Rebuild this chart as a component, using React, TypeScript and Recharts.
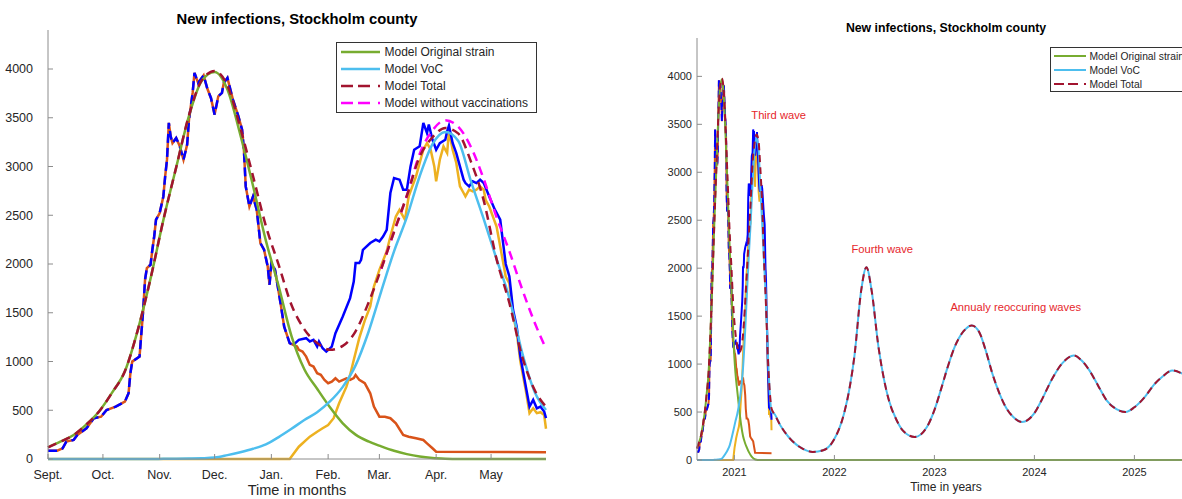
import { LineChart, Line, XAxis, YAxis, ReferenceDot } from 'recharts'

const FONT = '"Liberation Sans", Arial, Helvetica, sans-serif'
const AXIS = '#8c8c8c'
const TEXT = '#262626'

const GREEN = '#77AC30'
const CYAN = '#4DBEEE'
const DARKRED = '#A2142F'
const MAGENTA = '#FF00FF'
const BLUE = '#0000FF'
const ORANGE = '#D95319'
const YELLOW = '#EDB120'
const NOTE = '#e6262b'

// axis ticks
const monthTicks = [0, 30, 61, 91, 122, 153, 181, 212, 242]
const monthLabels = ['Sept.', 'Oct.', 'Nov.', 'Dec.', 'Jan.', 'Feb.', 'Mar.', 'Apr.', 'May']
const yTicks = [0, 500, 1000, 1500, 2000, 2500, 3000, 3500, 4000]
const yearTicks = [2021, 2022, 2023, 2024, 2025]

// model curves, days since 1 Sept 2020
const modelDays = [0, 7, 14, 21, 28, 35, 42, 49, 56, 63, 70, 77, 84, 91, 98, 105, 112, 119, 126, 133, 140, 147, 154, 161, 168, 175, 182, 189, 196, 203, 210, 217, 224, 231, 238, 245, 252, 259, 266, 272]
const modelOriginal = [120, 180, 246, 355, 490, 680, 900, 1320, 1850, 2450, 2990, 3520, 3880, 3970, 3790, 3330, 2800, 2240, 1770, 1260, 920, 720, 530, 366, 250, 180, 130, 85, 50, 25, 10, 3, 0, 0, 0, 0, 0, 0, 0, 0]
const modelVoc = [0, 0, 0, 0, 0, 0, 0, 0, 0, 2, 3, 5, 8, 15, 40, 70, 105, 150, 225, 310, 400, 480, 590, 740, 960, 1300, 1720, 2130, 2480, 2900, 3230, 3355, 3265, 2850, 2460, 2050, 1650, 1090, 680, 503]
const modelTotal = [120, 180, 246, 355, 490, 680, 900, 1320, 1850, 2450, 2990, 3525, 3885, 3980, 3830, 3400, 2900, 2390, 1990, 1580, 1330, 1190, 1120, 1160, 1310, 1600, 1950, 2330, 2700, 3100, 3300, 3395, 3340, 3050, 2650, 2050, 1600, 1050, 700, 537]
const modelNoVacc = [null, null, null, null, null, null, null, null, null, null, null, null, null, null, null, null, null, null, null, null, null, null, null, null, null, null, 1950, 2330, 2700, 3130, 3370, 3475, 3410, 3200, 2870, 2480, 2130, 1740, 1390, 1130]

// observed, both strains together (first wave: all original strain)
const obsEarlyDays = [0, 5, 8, 10, 14, 16, 21, 25, 29, 32, 37, 42, 44, 45, 46, 50, 51, 52, 53, 54, 56, 57, 58, 59, 61, 63, 64, 65, 66, 67, 68, 70, 72, 74, 76, 77, 79, 80, 82, 85, 87, 89, 91, 93, 95, 96, 98, 101, 104, 106, 107, 108, 110, 112, 114, 116, 118, 120, 121, 122, 124, 127, 129, 132, 134]
const obsEarly = [85, 85, 110, 178, 195, 246, 315, 418, 434, 503, 537, 588, 674, 880, 999, 1050, 1290, 1530, 1838, 1958, 1992, 2146, 2282, 2454, 2523, 2693, 2900, 3070, 3447, 3309, 3240, 3292, 3207, 3070, 3224, 3480, 3755, 3960, 3857, 3935, 3800, 3703, 3532, 3720, 3755, 3857, 3909, 3686, 3515, 3378, 3172, 2796, 2590, 2693, 2556, 2215, 2146, 1975, 1787, 2009, 1940, 1599, 1358, 1188, 1170]

const obsTotalDays = [134, 137, 141, 143, 145, 147, 148, 150, 152, 155, 157, 161, 165, 167, 168, 170, 171, 172, 176, 179, 181, 183, 185, 187, 189, 192, 194, 196, 198, 200, 203, 205, 207, 208, 210, 212, 214, 217, 218, 219, 221, 223, 225, 227, 228, 230, 232, 234, 236, 238, 241, 244, 247, 248, 250, 252, 254, 256, 258, 261, 263, 265, 267, 269, 271, 272]
const obsTotal = [1170, 1222, 1239, 1205, 1222, 1153, 1205, 1136, 1102, 1153, 1290, 1461, 1650, 1820, 2009, 2009, 2043, 2146, 2215, 2249, 2232, 2282, 2351, 2728, 2882, 2865, 2762, 2762, 3001, 3172, 3207, 3447, 3344, 3430, 3275, 3172, 3240, 3275, 3361, 3420, 3241, 3138, 3001, 2865, 2830, 2796, 2848, 2830, 2865, 2830, 2693, 2560, 2454, 2300, 2000, 1872, 1530, 1358, 1050, 742, 537, 606, 520, 537, 486, 420]

const obsOriginalDays = [134, 136, 137, 139, 141, 143, 145, 147, 149, 151, 153, 155, 157, 159, 163, 165, 167, 168, 170, 173, 176, 178, 181, 184, 187, 190, 194, 197, 201, 205, 207, 210, 212, 272]
const obsOriginal = [1170, 1153, 1119, 1102, 1050, 965, 948, 880, 863, 811, 777, 794, 828, 794, 828, 811, 830, 862, 811, 777, 674, 537, 434, 434, 418, 366, 246, 229, 212, 195, 161, 110, 75, 70]

const obsVocDays = [0, 132, 137, 143, 147, 150, 153, 156, 159, 163, 165, 167, 170, 173, 176, 178, 181, 185, 187, 190, 192, 195, 197, 201, 205, 207, 209, 211, 212, 214, 216, 218, 219, 221, 223, 225, 227, 228, 230, 232, 234, 236, 238, 239, 241, 245, 248, 250, 252, 254, 256, 258, 261, 263, 265, 267, 269, 271, 272]
const obsVoc = [0, 0, 126, 229, 280, 315, 349, 418, 572, 742, 862, 1016, 1240, 1420, 1564, 1769, 1940, 2130, 2282, 2488, 2556, 2454, 2693, 2899, 3172, 3241, 3172, 3001, 2848, 3070, 3207, 3138, 3361, 3172, 3036, 2796, 2728, 2693, 2762, 2745, 2762, 2796, 2762, 2659, 2590, 2385, 2077, 1872, 1800, 1480, 1300, 1000, 700, 470, 520, 470, 480, 450, 310]

// long-term projection (VoC = total), in years
const futureYears = [2021.40, 2021.46, 2021.542, 2021.62, 2021.681, 2021.784, 2021.888, 2021.992, 2022.096, 2022.15, 2022.199, 2022.268, 2022.32, 2022.372, 2022.441, 2022.5, 2022.545, 2022.62, 2022.683, 2022.804, 2022.925, 2023.0, 2023.063, 2023.13, 2023.202, 2023.29, 2023.374, 2023.45, 2023.513, 2023.58, 2023.651, 2023.72, 2023.789, 2023.876, 2023.996, 2024.08, 2024.169, 2024.28, 2024.394, 2024.47, 2024.55, 2024.64, 2024.722, 2024.82, 2024.912, 2025.0, 2025.103, 2025.2, 2025.276, 2025.379, 2025.48, 2025.6]
const futureWave = [480, 360, 240, 160, 119, 84, 101, 205, 483, 740, 1073, 1768, 2010, 1768, 1177, 820, 622, 420, 309, 240, 344, 520, 726, 960, 1177, 1340, 1403, 1330, 1143, 900, 692, 540, 448, 396, 483, 640, 830, 1010, 1090, 1040, 934, 770, 622, 530, 500, 550, 656, 790, 865, 934, 900, 810]

const START_YEAR = 2020.626
const END_YEAR = 2025.606

type Pt = { x: number; y: number | null }
const pts = (xs: number[], ys: (number | null)[]): Pt[] => xs.map((x, i) => ({ x, y: ys[i] }))
const toYears = (rows: Pt[]): Pt[] => rows.map((r) => ({ x: START_YEAR + r.x / 365, y: r.y }))

const earlyData = pts(obsEarlyDays, obsEarly)
const totalData = pts(obsTotalDays, obsTotal)
const originalData = [...earlyData, ...pts(obsOriginalDays, obsOriginal).slice(1)]
const vocData = pts(obsVocDays, obsVoc)
const greenData = pts(modelDays, modelOriginal)
const cyanData = pts(modelDays, modelVoc)
const redData = pts(modelDays, modelTotal)
const magentaData = pts(modelDays, modelNoVacc)
const future = pts(futureYears, futureWave)

function MonthsChart() {
  const w = 2.5
  return (
    <LineChart width={560} height={499} margin={{ top: 30, right: 14, bottom: 0, left: 0 }} style={{ fontFamily: FONT }}>
      <XAxis dataKey="x" type="number" domain={[0, 272]} ticks={monthTicks} interval={0}
        tickFormatter={(v: number) => monthLabels[monthTicks.indexOf(v)]}
        tickSize={-5} tickMargin={16} height={40} stroke={AXIS} tick={{ fill: TEXT, fontSize: 12.5 }} />
      <XAxis xAxisId="top" orientation="top" dataKey="x" type="number" domain={[0, 272]} ticks={monthTicks}
        interval={0} tick={false} tickSize={-5} height={0} stroke={AXIS} />
      <YAxis type="number" domain={[0, 4400]} ticks={yTicks} interval={0} tickSize={-5} tickMargin={20}
        width={48} stroke={AXIS} tick={{ fill: TEXT, fontSize: 12.5 }} />
      <YAxis yAxisId="r" orientation="right" type="number" domain={[0, 4400]} ticks={yTicks} interval={0}
        tick={false} tickSize={-5} width={0} stroke={AXIS} />

      <Line data={originalData} dataKey="y" stroke={ORANGE} strokeWidth={w} dot={false} type="linear" isAnimationActive={false} />
      <Line data={vocData} dataKey="y" stroke={YELLOW} strokeWidth={w} dot={false} type="linear" isAnimationActive={false} />
      <Line data={totalData} dataKey="y" stroke={BLUE} strokeWidth={w} dot={false} type="linear" isAnimationActive={false} />
      <Line data={earlyData} dataKey="y" stroke={BLUE} strokeWidth={w} strokeDasharray="9 5" dot={false} type="linear" isAnimationActive={false} />

      <Line data={greenData} dataKey="y" stroke={GREEN} strokeWidth={w} dot={false} type="monotone" isAnimationActive={false} />
      <Line data={cyanData} dataKey="y" stroke={CYAN} strokeWidth={w} dot={false} type="monotone" isAnimationActive={false} />
      <Line data={magentaData} dataKey="y" stroke={MAGENTA} strokeWidth={w} strokeDasharray="9 6" dot={false} type="monotone" isAnimationActive={false} />
      <Line data={redData} dataKey="y" stroke={DARKRED} strokeWidth={w} strokeDasharray="9 6" dot={false} type="monotone" isAnimationActive={false} />
    </LineChart>
  )
}

function YearsChart() {
  const w = 2
  const note = { position: 'right' as const, offset: 0, fill: NOTE, fontSize: 11.2 }
  return (
    <LineChart width={570} height={499} margin={{ top: 38, right: 15, bottom: 0, left: 0 }} style={{ fontFamily: FONT }}>
      <XAxis dataKey="x" type="number" domain={[START_YEAR, END_YEAR]} ticks={yearTicks} interval={0}
        tickSize={-5} tickMargin={13} height={39} stroke={AXIS} tick={{ fill: TEXT, fontSize: 11 }} />
      <XAxis xAxisId="top" orientation="top" dataKey="x" type="number" domain={[START_YEAR, END_YEAR]} ticks={yearTicks}
        interval={0} tick={false} tickSize={-5} height={0} stroke={AXIS} />
      <YAxis type="number" domain={[0, 4400]} ticks={yTicks} interval={0} tickSize={-5} tickMargin={10}
        width={57} stroke={AXIS} tick={{ fill: TEXT, fontSize: 11 }} />
      <YAxis yAxisId="r" orientation="right" type="number" domain={[0, 4400]} ticks={yTicks} interval={0}
        tick={false} tickSize={-5} width={0} stroke={AXIS} />

      <Line data={toYears(originalData)} dataKey="y" stroke={ORANGE} strokeWidth={w} dot={false} type="linear" isAnimationActive={false} />
      <Line data={toYears(vocData)} dataKey="y" stroke={YELLOW} strokeWidth={w} dot={false} type="linear" isAnimationActive={false} />
      <Line data={toYears(totalData)} dataKey="y" stroke={BLUE} strokeWidth={w} dot={false} type="linear" isAnimationActive={false} />
      <Line data={toYears(earlyData)} dataKey="y" stroke={BLUE} strokeWidth={w} strokeDasharray="7 4" dot={false} type="linear" isAnimationActive={false} />

      <Line data={[...toYears(greenData), { x: END_YEAR, y: 0 }]} dataKey="y" stroke={GREEN} strokeWidth={w} dot={false} type="monotone" isAnimationActive={false} />
      <Line data={[...toYears(cyanData), ...future]} dataKey="y" stroke={CYAN} strokeWidth={w} dot={false} type="monotone" isAnimationActive={false} />
      <Line data={[...toYears(redData), ...future]} dataKey="y" stroke={DARKRED} strokeWidth={w} strokeDasharray="7 5" dot={false} type="monotone" isAnimationActive={false} />

      <ReferenceDot x={2021.169} y={3594} r={0} stroke="none" fill="none" label={{ ...note, value: 'Third wave' }} />
      <ReferenceDot x={2022.171} y={2198} r={0} stroke="none" fill="none" label={{ ...note, value: 'Fourth wave' }} />
      <ReferenceDot x={2023.16} y={1594} r={0} stroke="none" fill="none" label={{ ...note, value: 'Annualy reoccuring waves' }} />
    </LineChart>
  )
}

type Entry = { label: string; color: string; dash?: string }

function LegendBox(props: {
  left: number; top: number; width: number; height: number
  rows: number[]; x1: number; x2: number; textX: number; fontSize: number; lineWidth: number
  entries: Entry[]
}) {
  const { left, top, width, height, rows, x1, x2, textX, fontSize, lineWidth, entries } = props
  return (
    <svg style={{ position: 'absolute', left, top }} width={width + 1} height={height + 1}>
      <rect x={0.5} y={0.5} width={width} height={height} fill="#fff" stroke="#333" strokeWidth={1} />
      {entries.map((e, i) => (
        <g key={e.label}>
          <line x1={x1} x2={x2} y1={rows[i]} y2={rows[i]} stroke={e.color} strokeWidth={lineWidth} strokeDasharray={e.dash} />
          <text x={textX} y={rows[i]} dominantBaseline="central" fontSize={fontSize} fill={TEXT} fontFamily={FONT}>{e.label}</text>
        </g>
      ))}
    </svg>
  )
}

function Caption(props: { x: number; y: number; size: number; bold?: boolean; text: string }) {
  return (
    <div style={{
      position: 'absolute', left: props.x, top: props.y, transform: 'translate(-50%, -50%)',
      fontSize: props.size, fontWeight: props.bold ? 'bold' : 'normal', color: props.bold ? '#000' : TEXT,
      whiteSpace: 'nowrap', lineHeight: 1, fontFamily: FONT,
    }}>{props.text}</div>
  )
}

export default function App() {
  return (
    <div style={{ position: 'absolute', left: 0, top: 0, width: 1182, height: 499, overflow: 'hidden', background: '#fff' }}>
      <div style={{ position: 'absolute', left: 0, top: 0 }}><MonthsChart /></div>
      <div style={{ position: 'absolute', left: 640, top: 0 }}><YearsChart /></div>

      <Caption x={297} y={19} size={14.8} bold text="New infections, Stockholm county" />
      <Caption x={297} y={490} size={14.5} text="Time in months" />
      <Caption x={946} y={28} size={12.3} bold text="New infections, Stockholm county" />
      <Caption x={946} y={487} size={12} text="Time in years" />

      <LegendBox left={336} top={42} width={200} height={70} rows={[10, 27, 44, 61]} x1={5} x2={44} textX={48.5}
        fontSize={12} lineWidth={2.5}
        entries={[
          { label: 'Model Original strain', color: GREEN },
          { label: 'Model VoC', color: CYAN },
          { label: 'Model Total', color: DARKRED, dash: '12 5 12 8 2 100' },
          { label: 'Model without vaccinations', color: MAGENTA, dash: '12 5 12 8 2 100' },
        ]} />
      <LegendBox left={1050} top={47} width={140} height={44} rows={[9, 23, 37]} x1={4} x2={36} textX={39.5}
        fontSize={10.3} lineWidth={2}
        entries={[
          { label: 'Model Original strain', color: GREEN },
          { label: 'Model VoC', color: CYAN },
          { label: 'Model Total', color: DARKRED, dash: '10 4 10 6 2 100' },
        ]} />
    </div>
  )
}
